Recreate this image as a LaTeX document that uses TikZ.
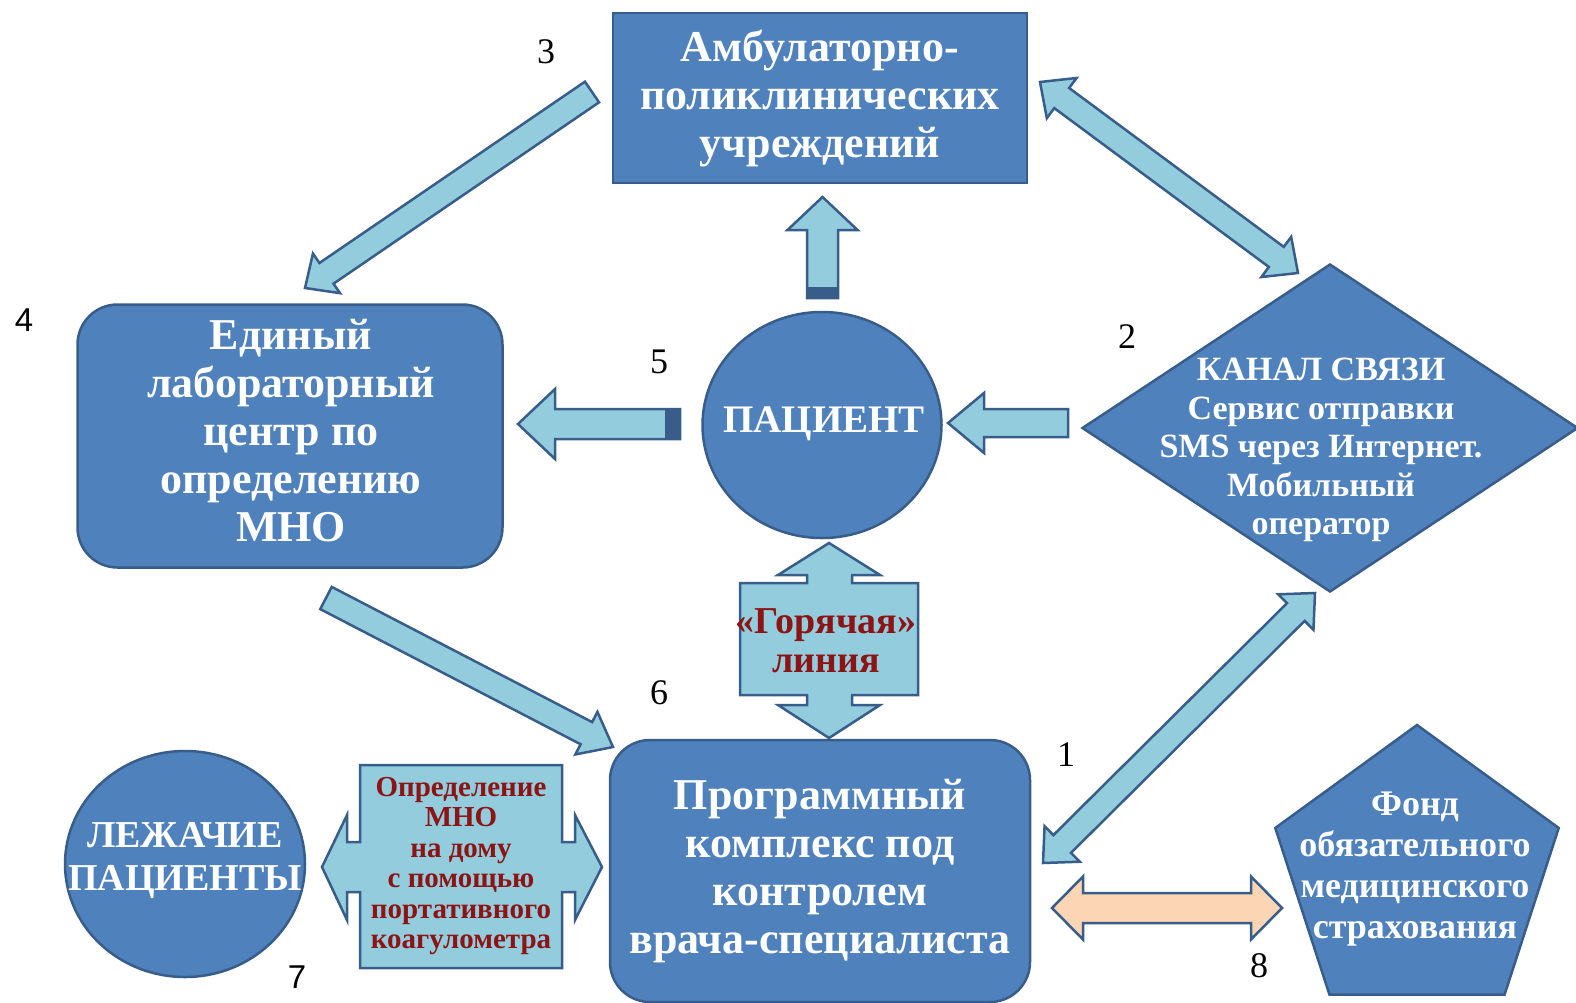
\documentclass[tikz,border=0pt]{standalone}
\usepackage{fontspec}
\setmainfont{Liberation Serif}
\newfontfamily\numsans{Liberation Sans}
\usetikzlibrary{calc, shapes.geometric}

\definecolor{boxblue}{RGB}{79,129,189}
\definecolor{boxline}{RGB}{56,93,138}
\definecolor{arrowfill}{RGB}{147,205,221}
\definecolor{peach}{RGB}{252,213,181}
\definecolor{hotred}{RGB}{140,20,20}

\tikzset{
  blue box/.style={
    draw=boxline,
    line width=2.5pt,
    fill=boxblue,
    text=white,
    align=center,
    inner sep=0pt,
    font=\bfseries\fontsize{44}{48}\selectfont
  },
  white text/.style={
    text=white,
    align=center,
    inner sep=0pt
  },
  red text/.style={
    text=hotred,
    align=center,
    inner sep=0pt
  },
  block arrow/.style={
    draw=boxline,
    line width=2.5pt,
    line join=miter,
    fill=arrowfill
  },
  tail band/.style={
    fill=boxline
  },
  num label/.style={
    font=\fontsize{36}{36}\selectfont,
    inner sep=0pt
  }
}

% block arrow: [style]{from}{to}{shaft half width}{head half width}{head length}
\newcommand{\onewayarrow}[6][]{%
  \coordinate (hb) at ($(#3)!#6!(#2)$);
  \draw[block arrow,#1] ($(#2)!#4!90:(#3)$) -- ($(hb)!#4!90:(#3)$)
    -- ($(hb)!#5!90:(#3)$) -- (#3) -- ($(hb)!#5!-90:(#3)$)
    -- ($(hb)!#4!-90:(#3)$) -- ($(#2)!#4!-90:(#3)$) -- cycle;}
\newcommand{\twowayarrow}[6][]{%
  \coordinate (ha) at ($(#2)!#6!(#3)$);
  \coordinate (hb) at ($(#3)!#6!(#2)$);
  \draw[block arrow,#1] (#2) -- ($(ha)!#5!90:(#3)$) -- ($(ha)!#4!90:(#3)$)
    -- ($(hb)!#4!90:(#3)$) -- ($(hb)!#5!90:(#3)$) -- (#3)
    -- ($(hb)!#5!-90:(#3)$) -- ($(hb)!#4!-90:(#3)$)
    -- ($(ha)!#4!-90:(#3)$) -- ($(ha)!#5!-90:(#3)$) -- cycle;}

\begin{document}
\begin{tikzpicture}[x=1pt, y=-1pt]
  \useasboundingbox (0,0) rectangle (1576,1002);
  \clip (0,0) rectangle (1576,1002);

  % main blocks
  \node[blue box, minimum width=414pt, minimum height=170pt] (amb) at (820,98)
    {Амбулаторно-\\поликлинических\\учреждений};
  \node[blue box, ellipse, minimum width=239pt, minimum height=226pt] (pat) at (822,425) {};
  \node[white text, font=\bfseries\fontsize{39}{44}\selectfont] (pattxt) at (824,424) {ПАЦИЕНТ};
  \node[blue box, rounded corners=40pt, minimum width=425pt, minimum height=263pt] (lab) at (290,436) {};
  \node[white text, font=\bfseries\fontsize{44}{48}\selectfont] (labtxt) at (291,431)
    {Единый\\лабораторный\\центр по\\определению\\МНО};
  \node[blue box, rounded corners=40pt, minimum width=420pt, minimum height=262pt] (prog) at (820,871)
    {Программный\\комплекс под\\контролем\\врача-специалиста};
  \node[blue box, diamond, minimum width=496pt, minimum height=328pt] (chan) at (1330,428) {};
  \node[white text, font=\bfseries\fontsize{34}{38.5}\selectfont] (chantxt) at (1321,450)
    {КАНАЛ СВЯЗИ\\Сервис отправки\\SMS через Интернет.\\Мобильный\\оператор};
  \node[blue box, ellipse, minimum width=240pt, minimum height=226pt] (bed) at (185,864) {};
  \node[white text, font=\bfseries\fontsize{38}{43}\selectfont] (bedtxt) at (185,860)
    {ЛЕЖАЧИЕ\\ПАЦИЕНТЫ};
  \node[blue box, regular polygon, regular polygon sides=5, minimum size=298pt] (fond) at (1417,874) {};
  \node[white text, font=\bfseries\fontsize{36}{41}\selectfont] (fondtxt) at (1415,869)
    {Фонд\\обязательного\\медицинского\\страхования};

  % arrow ends
  \coordinate (a3s) at (592,92);
  \coordinate (a3e) at (305,288);
  \coordinate (a2s) at (1040,82);
  \coordinate (a2e) at (1298,273);
  \coordinate (a1s) at (1315,593);
  \coordinate (a1e) at (1043,863);
  \coordinate (a6s) at (326,598);
  \coordinate (a6e) at (613,747);
  \coordinate (a5s) at (680,424);
  \coordinate (a5e) at (518,424);
  \coordinate (aus) at (822.5,298);
  \coordinate (aue) at (822.5,197);
  \coordinate (ars) at (1068,423);
  \coordinate (are) at (948,423);
  \coordinate (a8s) at (1052,908);
  \coordinate (a8e) at (1282,908);

  % arrows
  \onewayarrow{a3s}{a3e}{12.5pt}{24pt}{26pt}
  \twowayarrow{a2s}{a2e}{12.5pt}{25pt}{27pt}
  \twowayarrow{a1s}{a1e}{12.5pt}{25pt}{27pt}
  \onewayarrow{a6s}{a6e}{12.5pt}{24pt}{30pt}
  \onewayarrow{a5s}{a5e}{15pt}{35pt}{37pt}
  \fill[tail band] (665,409) rectangle (680,439);
  \onewayarrow{aus}{aue}{15.5pt}{35pt}{33pt}
  \fill[tail band] (807,287) rectangle (838,298);
  \onewayarrow{ars}{are}{14pt}{30pt}{36pt}
  \twowayarrow[fill=peach]{a8s}{a8e}{15pt}{31.5pt}{31pt}

  % hot line callout
  \draw[block arrow] (740,583) -- (807,583) -- (807,575) -- (778,575) -- (829,543)
    -- (880,575) -- (852,575) -- (852,583) -- (918,583) -- (918,695) -- (852,695)
    -- (852,705) -- (880,705) -- (829,738) -- (778,705) -- (807,705) -- (807,695)
    -- (740,695) -- cycle;
  \node[red text, font=\bfseries\fontsize{38}{39}\selectfont] (hot) at (826,641)
    {«Горячая»\\линия};

  % home test callout
  \draw[block arrow] (360,765) -- (562,765) -- (562,842) -- (575,842) -- (575,815)
    -- (602,867) -- (575,920) -- (575,892) -- (562,892) -- (562,968) -- (360,968)
    -- (360,892) -- (347,892) -- (347,920) -- (322,867) -- (347,815) -- (347,842)
    -- (360,842) -- cycle;
  \node[red text, font=\bfseries\fontsize{29}{30.5}\selectfont] (home) at (461,866)
    {Определение\\МНО\\на дому\\с помощью\\портативного\\коагулометра};

  % numbers
  \node[num label] (n1) at (1066,755) {1};
  \node[num label] (n2) at (1127,337) {2};
  \node[num label] (n3) at (546,52) {3};
  \node[num label, font=\numsans\fontsize{33}{33}\selectfont] (n4) at (24,320) {4};
  \node[num label] (n5) at (659,362) {5};
  \node[num label] (n6) at (659,693) {6};
  \node[num label, font=\numsans\fontsize{33}{33}\selectfont] (n7) at (297,977) {7};
  \node[num label] (n8) at (1259,966) {8};
\end{tikzpicture}
\end{document}
